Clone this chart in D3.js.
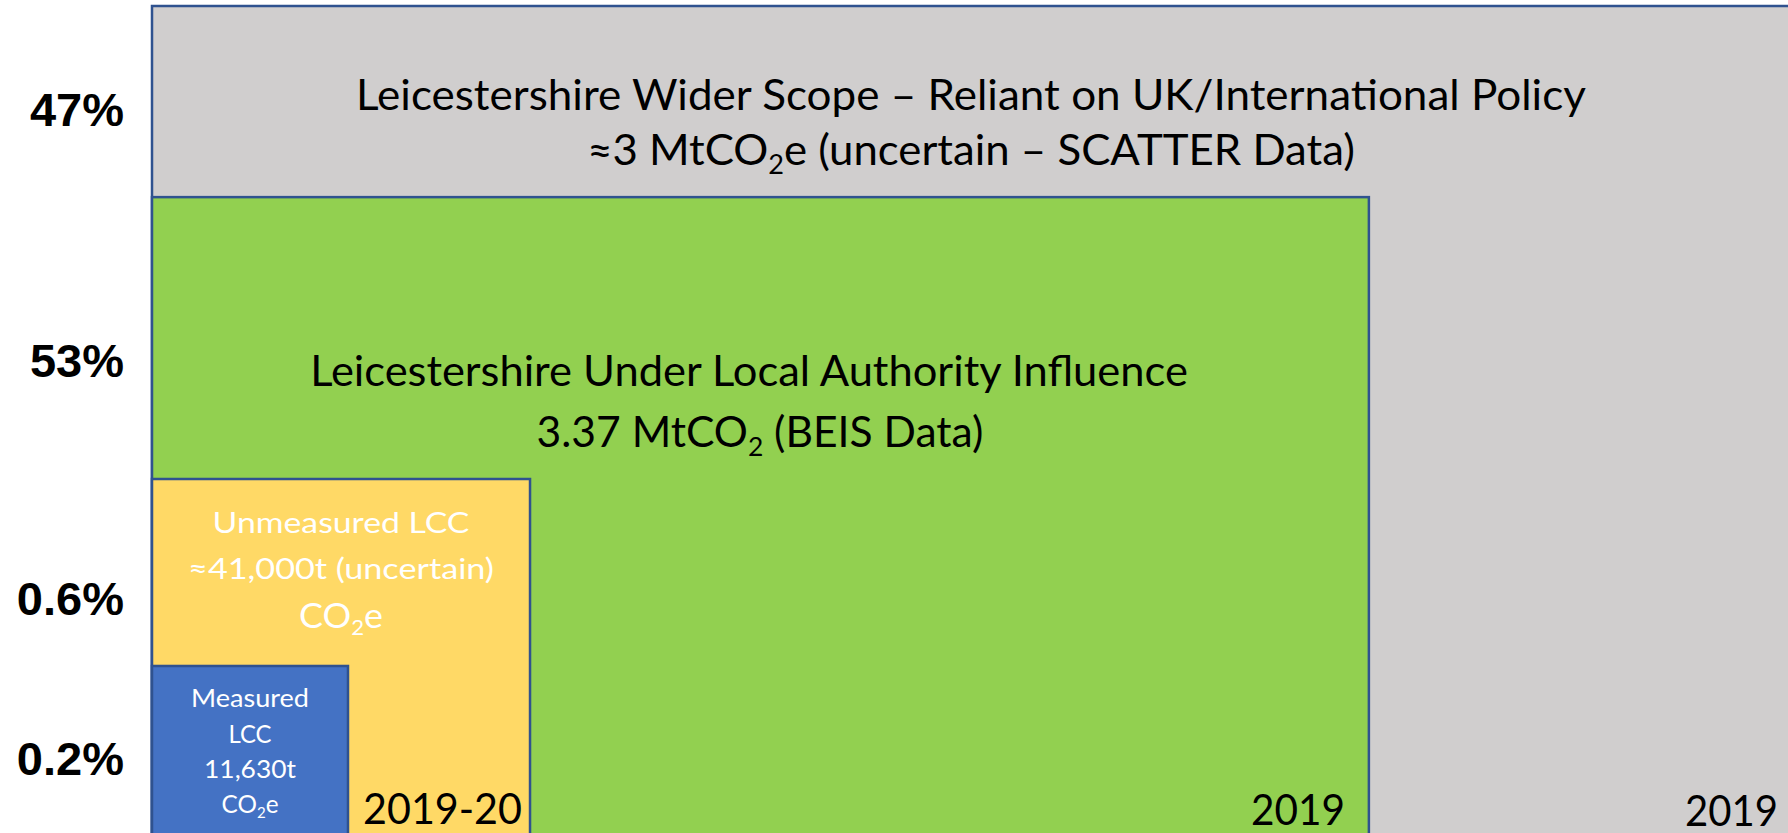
<!DOCTYPE html>
<html>
<head>
<meta charset="utf-8">
<script src="https://cdn.jsdelivr.net/npm/d3@7"></script>
<style>
  html, body { margin: 0; padding: 0; background: #fff; overflow: hidden; }
  svg { display: block; }
</style>
</head>
<body>
<svg id="chart"></svg>
<script>
"use strict";

/******************************** Data ********************************/
const SCOPES = ["Wider Scope", "Under Local Authority Influence", "Unmeasured LCC", "Measured LCC"];
const SHARES = ["47%", "53%", "0.6%", "0.2%"];
const PERIODS = ["2019", "2019", "2019-20", ""];
const LINES = [
  ["Leicestershire Wider Scope – Reliant on UK/International Policy", "≈3 MtCO₂e (uncertain – SCATTER Data)"],
  ["Leicestershire Under Local Authority Influence", "3.37 MtCO₂ (BEIS Data)"],
  ["Unmeasured LCC", "≈41,000t (uncertain)", "CO₂e"],
  ["Measured", "LCC", "11,630t", "CO₂e"]
];

/******************************** Layout / style ********************************/
const WIDTH = 1788, HEIGHT = 833;
const FILLS = ["#d0cece", "#92d050", "#ffd966", "#4472c4"];
const INK = ["#000", "#000", "#fff", "#fff"];
const BORDER = "#2f528f";
const FONT = "Lato, 'Open Sans', sans-serif";
const BOLD_FONT = "'Liberation Sans', Arial, sans-serif";

// nested boxes, as fractions of the panel (schematic, not to scale)
const BOX_RIGHT = [1, 0.742, 0.2305, 0.1195];
const BOX_TOP = [1, 0.770, 0.4308, 0.2058];

// text placement inside each box
const TEXT = [
  { cx: [971, 971], y: [110, 165], w: [1230, 768], size: [43, 43] },
  { cx: [749, 760], y: [386, 447], w: [878, 447], size: [43, 43] },
  { cx: [341, 341, 341], y: [533, 579, 628], w: [257, 306, 84], size: [29, 29, 35] },
  { cx: [250, 250, 250, 250], y: [707, 743, 778, 813], w: [118, 43, 92, 57], size: [25, 25, 25, 25] }
];
const SHARE_Y = [126, 377, 615, 775];
const PERIOD_POS = [{ x: 1778, y: 826, w: 93 }, { x: 1345, y: 825, w: 94 }, { x: 522, y: 824, w: 159 }];

const svg = d3.select("#chart").attr("width", WIDTH).attr("height", HEIGHT);

const x = d3.scaleLinear().domain([0, 1]).range([152, 1792]);
const y = d3.scaleLinear().domain([0, 1]).range([837, 6]);

const rows = SCOPES.map((s, i) => ({ scope: s, i: i, right: BOX_RIGHT[i], top: BOX_TOP[i] }));

// boxes
svg.append("g").selectAll("rect")
  .data(rows)
  .join("rect")
  .attr("x", x(0))
  .attr("y", d => y(d.top))
  .attr("width", d => x(d.right) - x(0))
  .attr("height", d => y(0) - y(d.top))
  .attr("fill", d => FILLS[d.i])
  .attr("stroke", BORDER)
  .attr("stroke-width", 2.5);

// write one line, subscript the ₂, then squeeze to the wanted width
function addLine(g, str, px, py, size, w, anchor, color, family, weight) {
  const t = g.append("text")
    .attr("font-family", family)
    .attr("font-size", size)
    .attr("font-weight", weight || "normal")
    .attr("fill", color)
    .attr("text-anchor", anchor);
  const parts = str.split("₂");
  parts.forEach((p, i) => {
    if (i > 0) {
      t.append("tspan").attr("font-size", size * 0.62).attr("dy", size * 0.2).text("2");
      t.append("tspan").attr("dy", -size * 0.2).text(p);
    } else {
      t.append("tspan").text(p);
    }
  });
  const len = t.node().getComputedTextLength();
  const k = w ? w / len : 1;
  t.attr("transform", `translate(${px},${py}) scale(${k},1)`);
  return t;
}

const gText = svg.append("g");
rows.forEach(d => {
  const L = TEXT[d.i];
  LINES[d.i].forEach((line, j) => {
    addLine(gText, line, L.cx[j], L.y[j], L.size[j], L.w[j], "middle", INK[d.i], FONT);
  });
});

// period labels
PERIODS.forEach((p, i) => {
  if (!p) return;
  const pos = PERIOD_POS[i];
  addLine(gText, p, pos.x, pos.y, 42, pos.w, "end", "#000", FONT);
});

// share labels on the left
SHARES.forEach((s, i) => {
  addLine(gText, s, 124, SHARE_Y[i], 47, null, "end", "#000", BOLD_FONT, "bold");
});
</script>
</body>
</html>
